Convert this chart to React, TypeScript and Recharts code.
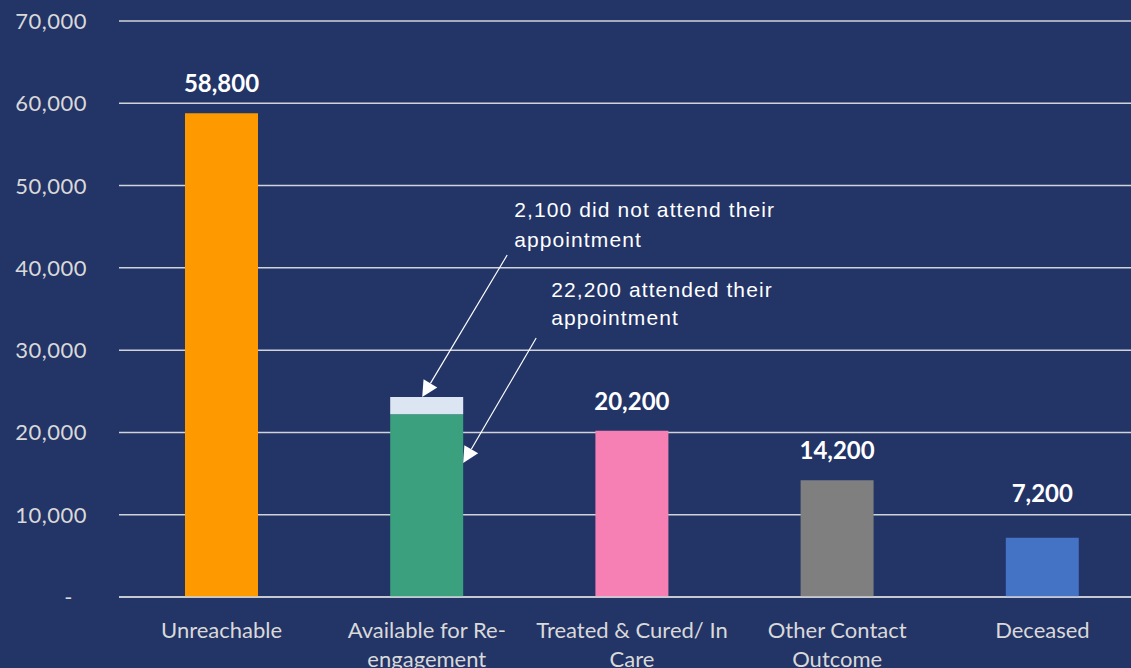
import { BarChart, Bar, XAxis, YAxis, CartesianGrid, Cell, LabelList } from "recharts";

const categories = [
  "Unreachable",
  "Available for Re-\nengagement",
  "Treated & Cured/ In\nCare",
  "Other Contact\nOutcome",
  "Deceased",
];
const attendedValues = [58800, 22200, 20200, 14200, 7200];
const notAttendedValues = [0, 2100, 0, 0, 0];
const barColors = ["#FF9900", "#3BA07E", "#F67FB4", "#7F7F7F", "#4472C4"];
const yTicks = [0, 10000, 20000, 30000, 40000, 50000, 60000, 70000];
const noteDidNot = ["2,100 did not attend their", "appointment"];
const noteAttended = ["22,200 attended their", "appointment"];

const data = categories.map((name, i) => ({
  name,
  main: attendedValues[i],
  extra: notAttendedValues[i],
}));

const BG = "#233467";
const GRID = "#D0D3DA";
const AXIS_TEXT = "#D9D9D9";
const LABEL_FONT = "Lato, 'Open Sans', sans-serif";
const NOTE_FONT = "'Liberation Sans', Arial, sans-serif";

const fmt = (v: number) => (v === 0 ? "-" : v.toLocaleString("en-US"));

const YTick = (props: any) => {
  const { x, y, payload } = props;
  const v = payload.value as number;
  return (
    <text
      x={v === 0 ? x - 14 : x}
      y={y}
      dy={8}
      textAnchor="end"
      fill={AXIS_TEXT}
      fontSize={22}
      letterSpacing={0.5}
      fontFamily={LABEL_FONT}
    >
      {fmt(v)}
    </text>
  );
};

const XTick = (props: any) => {
  const { x, y, payload } = props;
  const lines = String(payload.value).split("\n");
  return (
    <text textAnchor="middle" fill={AXIS_TEXT} fontSize={22} fontFamily={LABEL_FONT}>
      {lines.map((l, i) => (
        <tspan key={i} x={x} y={y + 39 + i * 29}>
          {l}
        </tspan>
      ))}
    </text>
  );
};

const ValueLabel = (props: any) => {
  const { x, y, width, index, value } = props;
  if (index === 1) return null;
  // the smallest bar's label sits a bit higher in the original
  const lift = index === 4 ? 36 : 21;
  return (
    <text
      x={x + width / 2}
      y={y - lift}
      textAnchor="middle"
      fill="#FFFFFF"
      fontSize={24}
      fontWeight={700}
      fontFamily={LABEL_FONT}
    >
      {fmt(value)}
    </text>
  );
};

const arrow = (x1: number, y1: number, x2: number, y2: number) => {
  const ang = Math.atan2(y2 - y1, x2 - x1);
  const len = 16;
  const half = 8;
  const bx = x2 - len * Math.cos(ang);
  const by = y2 - len * Math.sin(ang);
  const px = -Math.sin(ang) * half;
  const py = Math.cos(ang) * half;
  return (
    <g>
      <line x1={x1} y1={y1} x2={bx} y2={by} stroke="#FFFFFF" strokeWidth={1.2} />
      <polygon
        points={`${x2},${y2} ${bx + px},${by + py} ${bx - px},${by - py}`}
        fill="#FFFFFF"
      />
    </g>
  );
};

const NoteLabel = (props: any) => {
  const { x, y, value } = props;
  if (!value) return null;
  return (
    <g fontFamily={NOTE_FONT} fontSize={21} letterSpacing={1.1} fill="#FFFFFF">
      <text x={x + 124} y={y - 180}>{noteDidNot[0]}</text>
      <text x={x + 124} y={y - 150}>{noteDidNot[1]}</text>
      <text x={x + 161} y={y - 100}>{noteAttended[0]}</text>
      <text x={x + 161} y={y - 72}>{noteAttended[1]}</text>
      {arrow(x + 117, y - 142, x + 32, y)}
      {arrow(x + 146, y - 59, x + 73, y + 66)}
    </g>
  );
};

export default function App() {
  return (
    <div
      style={{
        position: "absolute",
        left: 0,
        top: 0,
        width: 1131,
        height: 668,
        overflow: "hidden",
        background: BG,
      }}
    >
      <BarChart
        width={1160}
        height={668}
        data={data}
        margin={{ top: 21, right: 15, left: 0, bottom: 0 }}
      >
        <CartesianGrid vertical={false} stroke={GRID} strokeWidth={1.5} />
        <XAxis
          dataKey="name"
          height={71}
          interval={0}
          tickLine={false}
          tickSize={0}
          axisLine={{ stroke: GRID, strokeWidth: 1.5 }}
          tick={<XTick />}
        />
        <YAxis
          width={119}
          domain={[0, 70000]}
          ticks={yTicks}
          axisLine={false}
          tickLine={false}
          tickSize={0}
          tickMargin={32}
          tick={<YTick />}
        />
        <Bar dataKey="main" stackId="a" barSize={73} isAnimationActive={false}>
          {data.map((_, i) => (
            <Cell key={`c-${i}`} fill={barColors[i]} />
          ))}
          <LabelList dataKey="main" content={<ValueLabel />} />
        </Bar>
        <Bar dataKey="extra" stackId="a" barSize={73} fill="#DCE6F2" isAnimationActive={false}>
          <LabelList dataKey="extra" content={<NoteLabel />} />
        </Bar>
      </BarChart>
    </div>
  );
}
